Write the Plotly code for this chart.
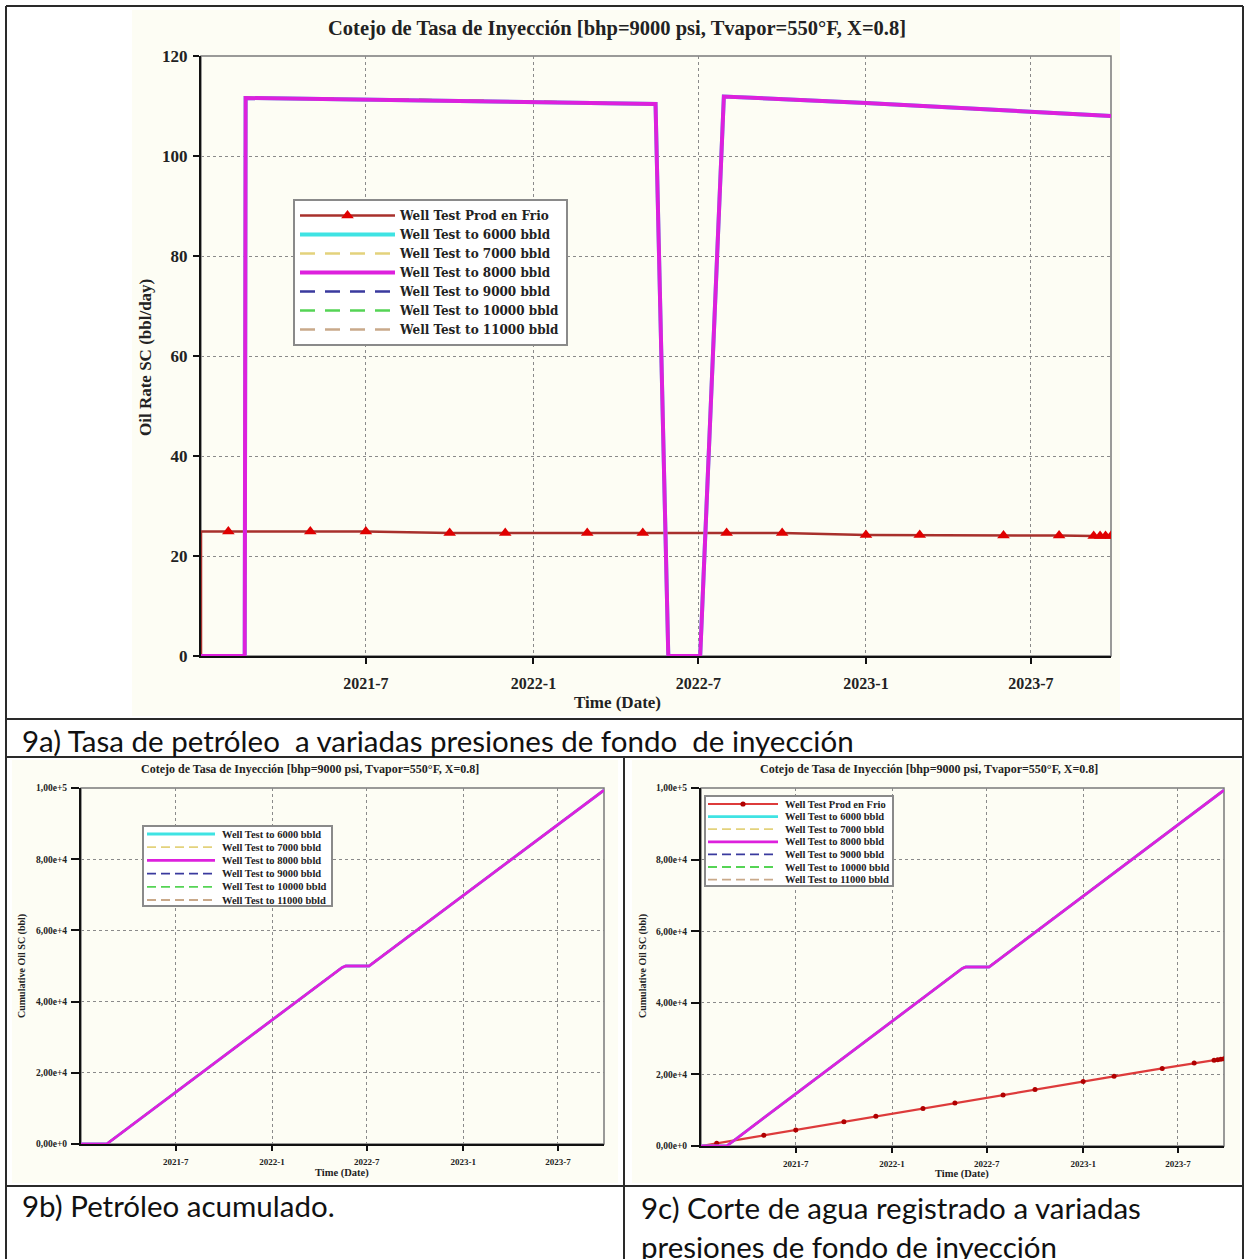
import plotly.graph_objects as go

W, H = 1249, 1259
def px(x): return x / W
def py(y): return 1 - y / H

# ---------------- data ----------------
x_range = ["2021-01-01", "2023-09-27"]
date_tickvals = ["2021-07-01", "2022-01-01", "2022-07-01", "2023-01-01", "2023-07-01"]
date_ticktext = ["2021-7", "2022-1", "2022-7", "2023-1", "2023-7"]

rate_ticks = [0, 20, 40, 60, 80, 100, 120]
cum_tickvals = [0, 20000, 40000, 60000, 80000, 100000]
cum_ticktext = ["0,00e+0", "2,00e+4", "4,00e+4", "6,00e+4", "8,00e+4", "1,00e+5"]

# injection well-test cases (all curves coincide)
rate_dates = ["2021-01-01", "2021-02-18", "2021-02-19", "2021-10-01", "2022-05-15",
              "2022-05-29", "2022-07-03", "2022-07-29", "2023-01-01", "2023-09-27"]
rate_vals = [0, 0, 111.6, 111.1, 110.4, 0, 0, 111.9, 110.6, 108.0]

cum_dates = ["2021-01-01", "2021-02-19", "2022-05-15", "2022-05-22", "2022-07-05",
             "2023-09-27"]
cum_vals = [0, 0, 49600, 50000, 50000, 99400]

# cold production well tests
frio_start_dates = ["2021-01-01", "2021-01-01", "2021-01-31"]
frio_start_rate = [0, 24.9, 24.9]
frio_start_cum_dates = ["2021-01-01", "2021-01-31"]
frio_start_cum = [0, 750]

frio_dates = ["2021-01-31", "2021-05-01", "2021-07-01", "2021-10-01", "2021-12-01",
              "2022-03-01", "2022-05-01", "2022-08-01", "2022-10-01", "2023-01-01",
              "2023-03-01", "2023-06-01", "2023-08-01", "2023-09-08", "2023-09-15",
              "2023-09-21", "2023-09-27"]
frio_rate = [24.9, 24.9, 24.9, 24.6, 24.6, 24.6, 24.6, 24.6, 24.6, 24.2,
             24.2, 24.1, 24.1, 24.0, 24.0, 24.0, 24.0]
frio_cum = [750, 2990, 4500, 6790, 8290, 10500, 12000, 14270, 15770, 18000,
            19450, 21680, 23150, 23950, 24100, 24250, 24400]

case_names = ["Well Test to 6000 bbld", "Well Test to 7000 bbld", "Well Test to 8000 bbld",
              "Well Test to 9000 bbld", "Well Test to 10000 bbld", "Well Test to 11000 bbld"]
frio_name = "Well Test Prod en Frio"

# ---------------- styles ----------------
case_colors = ["#3FE3E3", "#E3D27C", "#DD20DD", "#3A3A9E", "#55D455", "#C9A98A"]
case_solid = [True, False, True, False, False, False]
draw_order = [0, 1, 3, 4, 5, 2]   # magenta drawn on top
FRIO_TOP_LINE = "#A8302C"
FRIO_TOP_MARK = "#E00000"
FRIO_BOT_LINE = "#DD3B3B"
FRIO_BOT_MARK = "#B00000"

SERIF = "Liberation Serif"
fig = go.Figure()

def case_style(k, big):
    solid = case_solid[k]
    if big:
        return (4.0 if solid else 2.5), ("solid" if solid else "15px,10px")
    return (2.8 if solid else 1.8), ("solid" if solid else "9px,5px")

def add_cases(xs, ys, xa, ya, big, show):
    for k in draw_order:
        width, dash = case_style(k, big)
        fig.add_trace(go.Scatter(
            x=xs, y=ys, mode="lines", name="<b>" + case_names[k] + "</b>",
            line=dict(color=case_colors[k], width=width, dash=dash),
            xaxis=xa, yaxis=ya, showlegend=show, legendrank=10 + k,
            hoverinfo="skip"))

# --- 9a top: oil rate ---
fig.add_trace(go.Scatter(x=frio_start_dates, y=frio_start_rate, mode="lines",
                         line=dict(color=FRIO_TOP_LINE, width=2.5), showlegend=False,
                         xaxis="x", yaxis="y", hoverinfo="skip"))
fig.add_trace(go.Scatter(x=frio_dates, y=frio_rate, mode="lines+markers",
                         name="<b>" + frio_name + "</b>",
                         line=dict(color=FRIO_TOP_LINE, width=2.5),
                         marker=dict(symbol="triangle-up", size=11, color=FRIO_TOP_MARK),
                         xaxis="x", yaxis="y", legendrank=1, hoverinfo="skip"))
add_cases(rate_dates, rate_vals, "x", "y", True, True)

# --- 9b bottom-left: cumulative oil ---
add_cases(cum_dates, cum_vals, "x2", "y2", False, False)

# --- 9c bottom-right: cumulative oil incl. cold production ---
fig.add_trace(go.Scatter(x=frio_start_cum_dates, y=frio_start_cum, mode="lines",
                         line=dict(color=FRIO_BOT_LINE, width=2.2), showlegend=False,
                         xaxis="x3", yaxis="y3", hoverinfo="skip"))
fig.add_trace(go.Scatter(x=frio_dates, y=frio_cum, mode="lines+markers",
                         name=frio_name, showlegend=False,
                         line=dict(color=FRIO_BOT_LINE, width=2.2),
                         marker=dict(symbol="circle", size=5, color=FRIO_BOT_MARK),
                         xaxis="x3", yaxis="y3", hoverinfo="skip"))
add_cases(cum_dates, cum_vals, "x3", "y3", False, False)

# ---------------- axes ----------------
def xax(dom, anchor, fs, tl, stand):
    return dict(domain=dom, anchor=anchor, type="date", range=x_range,
                tickmode="array", tickvals=date_tickvals, ticktext=date_ticktext,
                tickfont=dict(family=SERIF, size=fs, color="#222", weight="bold"),
                showgrid=True, gridcolor="#8a8a8a", griddash="dot", gridwidth=1.2,
                showline=True, linecolor="#111", linewidth=2, zeroline=False,
                ticks="outside", ticklen=tl, tickwidth=2, tickcolor="#111",
                ticklabelstandoff=stand, automargin=False, fixedrange=True)

def yax(dom, anchor, rng, tv, tt, fs, tl, stand):
    return dict(domain=dom, anchor=anchor, range=rng, tickmode="array",
                tickvals=tv, ticktext=tt,
                tickfont=dict(family=SERIF, size=fs, color="#222", weight="bold"),
                showgrid=True, gridcolor="#8a8a8a", griddash="dot", gridwidth=1.2,
                showline=True, linecolor="#111", linewidth=2, zeroline=False,
                ticks="outside", ticklen=tl, tickwidth=2, tickcolor="#111",
                ticklabelstandoff=stand, automargin=False, fixedrange=True)

layout = dict(
    width=W, height=H, margin=dict(l=0, r=0, t=0, b=0),
    paper_bgcolor="white", plot_bgcolor="rgba(0,0,0,0)",
    xaxis=xax([px(201), px(1111)], "y", 16, 6, 6),
    yaxis=yax([py(656), py(56)], "x", [0, 120], rate_ticks, [str(v) for v in rate_ticks], 17, 6, 2),
    xaxis2=xax([px(81), px(604)], "y2", 9, 5, 3),
    yaxis2=yax([py(1144), py(788)], "x2", [0, 100000], cum_tickvals, cum_ticktext, 9.5, 8, 2),
    xaxis3=xax([px(701), px(1224)], "y3", 9, 5, 3),
    yaxis3=yax([py(1146), py(788)], "x3", [0, 100000], cum_tickvals, cum_ticktext, 9.5, 8, 2),
    legend=dict(x=px(293), y=py(199), xanchor="left", yanchor="top",
                bgcolor="white", bordercolor="#8a8a8a", borderwidth=2,
                font=dict(family="DejaVu Serif", size=12, color="#222"),
                itemwidth=95, tracegroupgap=0, traceorder="normal"),
    showlegend=True,
)
fig.update_layout(**layout)

# ---------------- shapes (panel backgrounds, table rules, plot frames) -------------
CREAM = "#FDFDF4"
shapes = []
for (x0, y0, x1, y1) in [(132, 10, 1120, 716), (12, 760, 618, 1183), (632, 760, 1240, 1183)]:
    shapes.append(dict(type="rect", xref="paper", yref="paper", layer="below",
                       x0=px(x0), x1=px(x1), y0=py(y1), y1=py(y0),
                       fillcolor=CREAM, line=dict(width=0)))
for ax in ["", "2", "3"]:
    shapes.append(dict(type="rect", xref="x%s domain" % ax, yref="y%s domain" % ax,
                       x0=0, x1=1, y0=0, y1=1, layer="below",
                       line=dict(color="#7a7a7a", width=1.5)))
RULE = dict(color="#2a2a2a", width=2)
for (x0, y0, x1, y1) in [(6, 6, 1243, 6), (6, 719, 1243, 719), (6, 757, 1243, 757),
                         (6, 1186, 1243, 1186), (6, 6, 6, 1259), (1243, 6, 1243, 1259),
                         (624, 757, 624, 1259)]:
    shapes.append(dict(type="line", xref="paper", yref="paper",
                       x0=px(x0), x1=px(x1), y0=py(y0), y1=py(y1), line=RULE))

# compact legends for the two small panels (Plotly's legend rows cannot be this dense)
def small_legend(box, row_h, first_y, lx0, lx1, tx, with_frio):
    x0, y0, x1, y1 = box
    shapes.append(dict(type="rect", xref="paper", yref="paper", layer="above",
                       x0=px(x0), x1=px(x1), y0=py(y1), y1=py(y0),
                       fillcolor="white", line=dict(color="#8a8a8a", width=2)))
    entries = []
    if with_frio:
        entries.append((frio_name, FRIO_BOT_LINE, 2.2, "solid", True))
    for k in range(len(case_names)):
        w, d = case_style(k, False)
        entries.append((case_names[k], case_colors[k], w, d, False))
    for i, (name, col, w, d, mark) in enumerate(entries):
        yy = first_y + i * row_h
        shapes.append(dict(type="line", xref="paper", yref="paper", layer="above",
                           x0=px(lx0), x1=px(lx1), y0=py(yy), y1=py(yy),
                           line=dict(color=col, width=w, dash=d)))
        if mark:
            cx = (lx0 + lx1) / 2
            shapes.append(dict(type="circle", xref="paper", yref="paper", layer="above",
                               x0=px(cx - 2.6), x1=px(cx + 2.6), y0=py(yy + 2.6), y1=py(yy - 2.6),
                               fillcolor=FRIO_BOT_MARK, line=dict(width=0)))
        fig.add_annotation(text="<b>" + name + "</b>", x=px(tx), y=py(yy),
                           xref="paper", yref="paper", showarrow=False,
                           xanchor="left", yanchor="middle",
                           font=dict(family=SERIF, size=10.5, color="#222"))

small_legend((143, 826, 332, 906), 13.2, 834, 147, 215, 220, False)
small_legend((705, 796, 893, 886), 12.6, 804, 708, 778, 783, True)
fig.update_layout(shapes=shapes)

# ---------------- text ----------------
TITLE = "Cotejo de Tasa de Inyección [bhp=9000 psi, Tvapor=550°F, X=0.8]"
def ann(text, x, y, size, family=SERIF, bold=True, angle=0, xanchor="center", color="#222"):
    fig.add_annotation(text=text, x=px(x), y=py(y), xref="paper", yref="paper",
                       showarrow=False, textangle=angle, xanchor=xanchor, yanchor="middle",
                       font=dict(family=family, size=size, color=color,
                                 weight="bold" if bold else "normal"))

ann(TITLE, 617, 28, 20.5)
ann("Oil Rate SC (bbl/day)", 146, 358, 17, angle=-90)
ann("Time (Date)", 617, 702, 17)

ann(TITLE, 310, 769, 12)
ann("Cumulative Oil SC (bbl)", 22, 966, 10, angle=-90)
ann("Time (Date)", 342, 1173, 10.5)

ann(TITLE, 929, 769, 12)
ann("Cumulative Oil SC (bbl)", 643, 966, 10, angle=-90)
ann("Time (Date)", 962, 1174, 10.5)

CAP = "Lato"
ann("9a) Tasa de petróleo\u00a0\u00a0a variadas presiones de fondo\u00a0\u00a0de inyección",
    20, 740, 29.5, family=CAP, bold=False, xanchor="left", color="#111")
ann("9b) Petróleo acumulado.", 20, 1205, 29.5, family=CAP, bold=False, xanchor="left", color="#111")
ann("9c) Corte de agua registrado a variadas", 639, 1207, 29.5, family=CAP, bold=False,
    xanchor="left", color="#111")
ann("presiones de fondo de inyección", 639, 1246, 29.5, family=CAP, bold=False,
    xanchor="left", color="#111")

fig.write_html("out.html")
